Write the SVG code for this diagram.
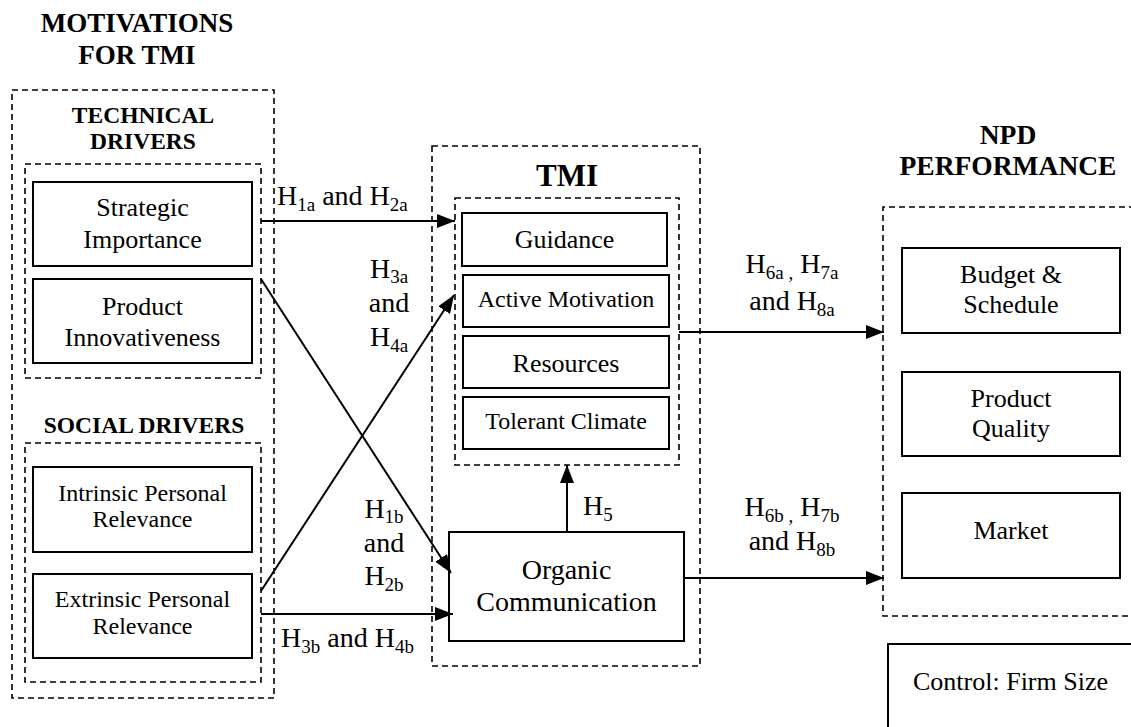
<svg xmlns="http://www.w3.org/2000/svg" width="1131" height="727" viewBox="0 0 1131 727" font-family="'Liberation Serif', 'Times New Roman', serif">
<defs>
<style>
.f{font-family:"Liberation Serif","Times New Roman",serif}
.t{font-weight:bold;text-anchor:middle}
.n{text-anchor:middle}
.box{fill:#fff;stroke:#000;stroke-width:2}
.dash{fill:none;stroke:#000;stroke-width:1.6;stroke-dasharray:6 4}
.conn{fill:none;stroke:#000;stroke-width:2}
.s{font-size:19px}
</style>
<marker id="ah" viewBox="0 0 18 14" refX="18" refY="7" markerWidth="18" markerHeight="14" markerUnits="userSpaceOnUse" orient="auto">
<path d="M0,0 L18,7 L0,14 Z" fill="#000"/>
</marker>
</defs>
<rect width="1131" height="727" fill="#fff"/>

<g id="motivations" class="f">
<text class="t" x="137" y="32" font-size="27">MOTIVATIONS</text>
<text class="t" x="137" y="64" font-size="27">FOR TMI</text>
<rect class="dash" x="12" y="90" width="262" height="608"/>
</g>

<g id="technical-drivers" class="f">
<text class="t" x="143" y="123" font-size="23.5">TECHNICAL</text>
<text class="t" x="143" y="149" font-size="23.5">DRIVERS</text>
<rect class="dash" x="25" y="164" width="236" height="214"/>
</g>
<g id="strategic-importance" class="f">
<rect class="box" x="33" y="182" width="219" height="84"/>
<text class="n" x="142.5" y="216" font-size="26">Strategic</text>
<text class="n" x="142.5" y="248" font-size="26">Importance</text>
</g>
<g id="product-innovativeness" class="f">
<rect class="box" x="33" y="279" width="219" height="84"/>
<text class="n" x="142.5" y="315" font-size="26">Product</text>
<text class="n" x="142.5" y="346" font-size="26">Innovativeness</text>
</g>

<g id="social-drivers" class="f">
<text class="t" x="144" y="433" font-size="23.5">SOCIAL DRIVERS</text>
<rect class="dash" x="25" y="443" width="236" height="239"/>
</g>
<g id="intrinsic" class="f">
<rect class="box" x="33" y="467" width="219" height="85"/>
<text class="n" x="142.5" y="501" font-size="24">Intrinsic Personal</text>
<text class="n" x="142.5" y="527" font-size="24">Relevance</text>
</g>
<g id="extrinsic" class="f">
<rect class="box" x="33" y="574" width="219" height="84"/>
<text class="n" x="142.5" y="607" font-size="24">Extrinsic Personal</text>
<text class="n" x="142.5" y="634" font-size="24">Relevance</text>
</g>

<g id="tmi" class="f">
<rect class="dash" x="432" y="146" width="268" height="520"/>
<text class="t" x="567" y="186" font-size="31">TMI</text>
<rect class="dash" x="455" y="198" width="224" height="267"/>
</g>
<g id="guidance" class="f">
<rect class="box" x="462" y="213" width="205" height="53"/>
<text class="n" x="564.5" y="248" font-size="26">Guidance</text>
</g>
<g id="active-motivation" class="f">
<rect class="box" x="463" y="275" width="206" height="52"/>
<text class="n" x="566" y="307" font-size="24">Active Motivation</text>
</g>
<g id="resources" class="f">
<rect class="box" x="463" y="336" width="206" height="52"/>
<text class="n" x="566" y="372" font-size="26">Resources</text>
</g>
<g id="tolerant-climate" class="f">
<rect class="box" x="463" y="397" width="206" height="52"/>
<text class="n" x="566" y="429" font-size="24">Tolerant Climate</text>
</g>
<g id="organic-communication" class="f">
<rect class="box" x="449" y="532" width="235" height="109"/>
<text class="n" x="566.5" y="579" font-size="28">Organic</text>
<text class="n" x="566.5" y="611" font-size="28">Communication</text>
</g>

<g id="npd-performance" class="f">
<text class="t" x="1008" y="144" font-size="27.5">NPD</text>
<text class="t" x="1008" y="175" font-size="27.5">PERFORMANCE</text>
<path class="dash" d="M1135,207 H883 V616 H1135"/>
</g>
<g id="budget-schedule" class="f">
<rect class="box" x="902" y="248" width="218" height="85"/>
<text class="n" x="1011" y="283" font-size="26">Budget &amp;</text>
<text class="n" x="1011" y="313" font-size="26">Schedule</text>
</g>
<g id="product-quality" class="f">
<rect class="box" x="902" y="372" width="218" height="84"/>
<text class="n" x="1011" y="407" font-size="26">Product</text>
<text class="n" x="1011" y="437" font-size="26">Quality</text>
</g>
<g id="market" class="f">
<rect class="box" x="902" y="493" width="218" height="85"/>
<text class="n" x="1011" y="539" font-size="26">Market</text>
</g>
<g id="control" class="f">
<path class="conn" d="M888,735 V644 H1135"/>
<text x="913" y="690" font-size="26">Control: Firm Size</text>
</g>

<g id="connectors">
<line class="conn" x1="261" y1="221" x2="455" y2="221" marker-end="url(#ah)"/>
<line class="conn" x1="261" y1="279" x2="451" y2="573" marker-end="url(#ah)"/>
<line class="conn" x1="261" y1="591" x2="454" y2="295" marker-end="url(#ah)"/>
<line class="conn" x1="261" y1="614" x2="453" y2="614" marker-end="url(#ah)"/>
<line class="conn" x1="567" y1="532" x2="567" y2="465" marker-end="url(#ah)"/>
<line class="conn" x1="679" y1="332" x2="884" y2="332" marker-end="url(#ah)"/>
<line class="conn" x1="684" y1="578" x2="884" y2="578" marker-end="url(#ah)"/>
</g>

<g id="labels" class="f">
<text x="277" y="205" font-size="28">H<tspan class="s" dy="6">1a</tspan><tspan dy="-6"> and H</tspan><tspan class="s" dy="6">2a</tspan></text>
<text class="n" x="389" y="278" font-size="28">H<tspan class="s" dy="5">3a</tspan></text>
<text class="n" x="389" y="312" font-size="28">and</text>
<text class="n" x="389" y="346" font-size="28">H<tspan class="s" dy="6">4a</tspan></text>
<text class="n" x="384" y="518" font-size="28">H<tspan class="s" dy="5">1b</tspan></text>
<text class="n" x="384" y="552" font-size="28">and</text>
<text class="n" x="384" y="585" font-size="28">H<tspan class="s" dy="6">2b</tspan></text>
<text x="281" y="647" font-size="28">H<tspan class="s" dy="6">3b</tspan><tspan dy="-6"> and H</tspan><tspan class="s" dy="6">4b</tspan></text>
<text x="583" y="515" font-size="28">H<tspan class="s" dy="6">5</tspan></text>
<text class="n" x="792" y="273" font-size="28">H<tspan class="s" dy="6">6a ,</tspan><tspan dy="-6"> H</tspan><tspan class="s" dy="6">7a</tspan></text>
<text class="n" x="792" y="310" font-size="28">and H<tspan class="s" dy="6">8a</tspan></text>
<text class="n" x="792" y="516" font-size="28">H<tspan class="s" dy="6">6b ,</tspan><tspan dy="-6"> H</tspan><tspan class="s" dy="6">7b</tspan></text>
<text class="n" x="792" y="550" font-size="28">and H<tspan class="s" dy="6">8b</tspan></text>
</g>
</svg>
